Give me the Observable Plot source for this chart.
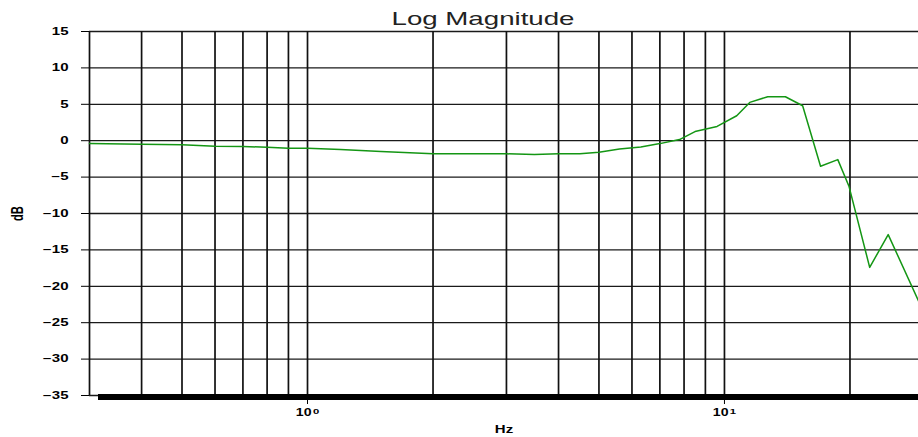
<!DOCTYPE html>
<html><head><meta charset="utf-8">
<script src="https://cdn.jsdelivr.net/npm/d3@7"></script>
<script src="https://cdn.jsdelivr.net/npm/@observablehq/plot@0.6"></script>
<style>body{margin:0;background:#fff;} #chart svg{display:block;}</style>
</head><body><div id="chart"></div>
<script>
const freqHz = [0.3, 0.4, 0.5, 0.6, 0.7, 0.8, 0.9, 1.0, 1.2, 1.5, 2, 2.5, 3, 3.5, 4, 4.5, 5, 5.6, 6.3, 7, 7.8, 8.5, 9.6, 10.7, 11.5, 12.7, 14.0, 15.4, 17.0, 18.7, 19.9, 22.3, 24.7, 29.2];
const magnitudeDb = [-0.37, -0.5, -0.55, -0.75, -0.8, -0.9, -1.05, -1.05, -1.2, -1.5, -1.8, -1.8, -1.8, -1.9, -1.8, -1.8, -1.6, -1.15, -0.85, -0.4, 0.15, 1.25, 1.96, 3.43, 5.26, 6.04, 6.04, 4.8, -3.5, -2.6, -6.3, -17.4, -12.9, -22.0];
const gridFreqs = [0.3, 0.4, 0.5, 0.6, 0.7, 0.8, 0.9, 1, 2, 3, 4, 5, 6, 7, 8, 9, 10, 20];
const dbTicks = [15, 10, 5, 0, -5, -10, -15, -20, -25, -30, -35];
const decadeTicks = [1, 10];
const decadeBase = "10";
const decadeExponents = ["0", "1"];
const chartTitle = "Log Magnitude";
const xLabel = "Hz";
const yLabel = "dB";

const data = freqHz.map((f, i) => ({f, db: magnitudeDb[i]}));

const plot = Plot.plot({
  width: 918, height: 437,
  marginLeft: 89, marginRight: 0, marginTop: 31, marginBottom: 42,
  style: {fontFamily: "Liberation Sans, Arial, sans-serif", background: "#fff", color: "#000"},
  x: {type: "log", domain: [0.3, 29.2]},
  y: {domain: [-35, 15]},
  marks: [
    Plot.ruleY(dbTicks, {stroke: "#1a1a1a", strokeWidth: 1.3}),
    Plot.ruleX(gridFreqs, {stroke: "#111", strokeWidth: 1.7}),
    Plot.ruleY([-35], {stroke: "#000", strokeWidth: 6, dy: 1.5, insetLeft: 9}),
    Plot.line(data, {x: "f", y: "db", stroke: "#149614", strokeWidth: 1.5}),
    Plot.axisY({ticks: dbTicks, tickSize: 8, tickPadding: 13, label: yLabel, labelAnchor: "center", labelArrow: "none", labelOffset: 79, fontSize: 10, fontWeight: "bold"}),
    Plot.axisX({ticks: decadeTicks, tickFormat: d => decadeBase + "|" + decadeExponents[decadeTicks.indexOf(d)], tickSize: 9, tickPadding: 4, label: xLabel, labelAnchor: "center", labelArrow: "none", labelOffset: 37, fontSize: 10, fontWeight: "bold"}),
    Plot.text([chartTitle], {frameAnchor: "top", dx: -21, dy: -7, lineAnchor: "bottom", fontSize: 19, fill: "#222"})
  ]
});
document.getElementById("chart").append(plot);

const svg = d3.select(plot);
// split base|exponent into a raised superscript
svg.selectAll("g[aria-label='x-axis tick label'] text").each(function() {
  const [base, exp] = this.textContent.split("|");
  this.textContent = base;
  const t = d3.select(this).append("tspan").attr("dy", -2).attr("dx", 1).style("font-size", "8px").text(exp);
});
svg.selectAll("g[aria-label$='tick label'] text, g[aria-label='x-axis label'] text").each(function() {
  const w = this.getComputedTextLength();
  if (w > 0) { this.setAttribute("textLength", w * 1.5); this.setAttribute("lengthAdjust", "spacingAndGlyphs"); }
});
svg.selectAll("g[aria-label='y-axis label'] text").each(function() {
  this.style.fontSize = "17px";
  this.setAttribute("textLength", 15); this.setAttribute("lengthAdjust", "spacingAndGlyphs");
});
svg.selectAll("g[aria-label='text'] text").each(function() {
  this.setAttribute("textLength", 183); this.setAttribute("lengthAdjust", "spacingAndGlyphs");
});
</script>
</body></html>
